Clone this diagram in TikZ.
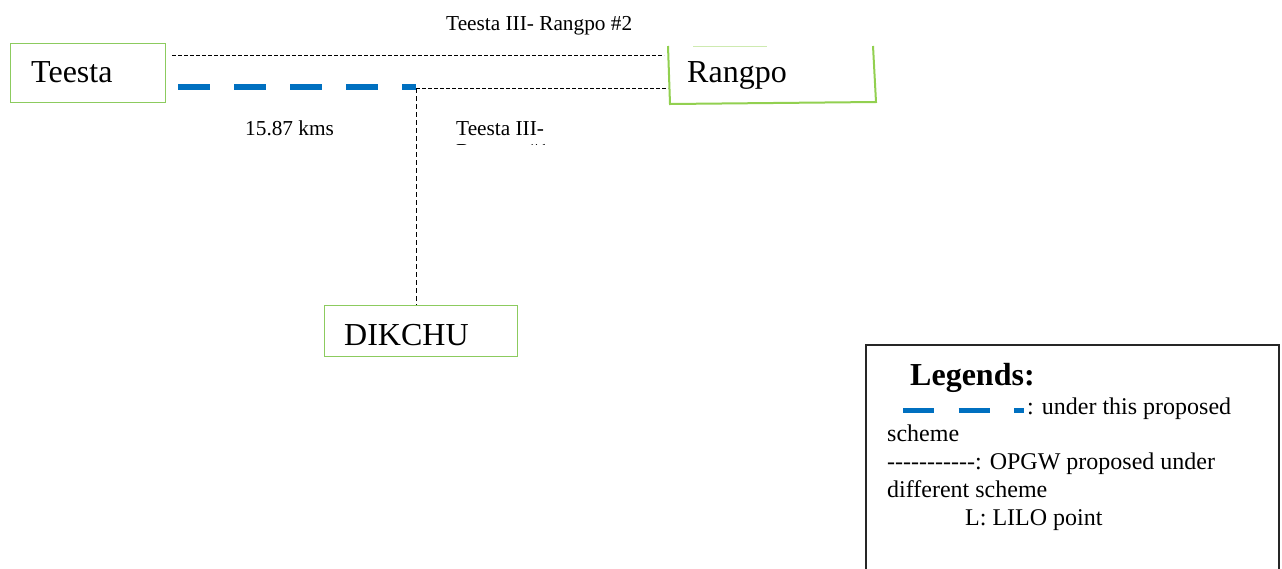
\documentclass[tikz,border=0pt]{standalone}
\usepackage{fontspec}
\setmainfont{Liberation Serif}
\definecolor{boxgreen}{HTML}{8CCB5E}
\definecolor{rgreen}{HTML}{92D050}
\definecolor{pblue}{HTML}{0070C0}
\tikzset{
  stn/.style={draw=boxgreen, line width=1pt, inner sep=0pt},
  stnlabel/.style={anchor=base west, inner sep=0pt, font=\fontsize{32}{36}\selectfont},
  small/.style={anchor=base west, inner sep=0pt, font=\fontsize{21.3}{24}\selectfont},
  leg/.style={anchor=base west, inner sep=0pt, font=\fontsize{24}{27}\selectfont},
  other/.style={draw=black, line width=0.8pt, dash pattern=on 3.5pt off 2.5pt},
  proposed/.style={draw=pblue, line width=6.5pt, dash pattern=on 32pt off 24pt, line cap=butt},
}
\begin{document}
\begin{tikzpicture}[x=1pt,y=-1pt]
\useasboundingbox[fill=white] (0,0) rectangle (1282,568);

% station boxes
\node[stn, minimum width=155pt, minimum height=59pt, anchor=north west] (teesta) at (10,43) {};
\node[stnlabel] (teestat) at (31,82) {Teesta};

\coordinate (rtl) at (668,46);
\coordinate (rbl) at (670,104);
\coordinate (rbr) at (876,102);
\coordinate (rtr) at (873,46);
\draw[rgreen, line width=2pt] (rtl) -- (rbl) -- (rbr) -- (rtr);
\draw[rgreen!45, line width=1.5pt] (693,46.5) -- (767,46.5);
\node[inner sep=0pt, minimum width=205pt, minimum height=58pt, anchor=north west] (rangpo) at (670,46) {};
\node[stnlabel] (rangpot) at (687,82) {Rangpo};

\node[stn, minimum width=193pt, minimum height=51pt, anchor=north west] (dikchu) at (324,305) {};
\node[stnlabel] (dikchut) at (344,345) {DIKCHU};

% connectors
\coordinate (j) at (416,88);
\coordinate (t1) at (172,55.5);
\coordinate (r1) at (664,55.5);
\coordinate (t2) at (178,87);
\coordinate (j2) at (416,87);
\coordinate (r2) at (668,88);
\draw[other] (t1) -- (r1);
\draw[proposed] (t2) -- (j2);
\draw[other] (j) -- (r2);
\draw[black, line width=0.8pt, dash pattern=on 5pt off 3pt] (j) -- (dikchu.north -| j);

% labels
\node[small] (l1) at (446,30) {Teesta III- Rangpo \#2};
\node[small] (l2) at (245,135) {15.87 kms};
\begin{scope}
\clip (440,105) rectangle (600,144.5);
\node[small] (l3) at (456,135) {Teesta III-};
\node[small] (l4) at (456,158) {Rangpo \#1};
\end{scope}

% legend
\draw[black!85, line width=1.8pt] (866,570) -- (866,345) -- (1279,345) -- (1279,570);
\node[anchor=base west, inner sep=0pt, font=\fontsize{32}{36}\selectfont\bfseries] (legt) at (910,385) {Legends:};
\coordinate (lb1) at (903,410.5);
\coordinate (lb2) at (1024,410.5);
\draw[pblue, line width=5.5pt, dash pattern=on 31pt off 24.5pt, line cap=butt] (lb1) -- (lb2);
\node[leg] (lg1) at (1027,414) {: under this proposed};
\node[leg] (lg2) at (887,441) {scheme};
\node[leg] (lg3) at (887,469) {-{}-{}-{}-{}-{}-{}-{}-{}-{}-{}-{}: OPGW proposed under};
\node[leg] (lg4) at (887,497) {different scheme};
\node[leg] (lg5) at (965,525) {L: LILO point};
\end{tikzpicture}
\end{document}
